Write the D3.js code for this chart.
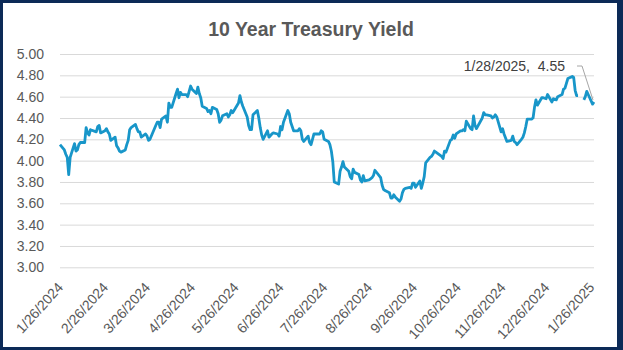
<!DOCTYPE html>
<html>
<head>
<meta charset="utf-8">
<script src="https://cdn.jsdelivr.net/npm/d3@7/dist/d3.min.js"></script>
<style>
  html, body { margin: 0; padding: 0; background: #ffffff; }
  svg { display: block; }
</style>
</head>
<body>
<div id="chart"></div>
<script>
// Daily 10-year Treasury yield (%), one row per trading day; null = no quote
const dates = [
  "2024-01-26","2024-01-29","2024-01-30","2024-01-31","2024-02-01","2024-02-02","2024-02-05","2024-02-06","2024-02-07","2024-02-08",
  "2024-02-09","2024-02-12","2024-02-13","2024-02-14","2024-02-15","2024-02-16","2024-02-20","2024-02-21","2024-02-22","2024-02-23",
  "2024-02-26","2024-02-27","2024-02-28","2024-02-29","2024-03-01","2024-03-04","2024-03-05","2024-03-06","2024-03-07","2024-03-08",
  "2024-03-11","2024-03-12","2024-03-13","2024-03-14","2024-03-15","2024-03-18","2024-03-19","2024-03-20","2024-03-21","2024-03-22",
  "2024-03-25","2024-03-26","2024-03-27","2024-03-28","2024-04-01","2024-04-02","2024-04-03","2024-04-04","2024-04-05","2024-04-08",
  "2024-04-09","2024-04-10","2024-04-11","2024-04-12","2024-04-15","2024-04-16","2024-04-17","2024-04-18","2024-04-19","2024-04-22",
  "2024-04-23","2024-04-24","2024-04-25","2024-04-26","2024-04-29","2024-04-30","2024-05-01","2024-05-02","2024-05-03","2024-05-06",
  "2024-05-07","2024-05-08","2024-05-09","2024-05-10","2024-05-13","2024-05-14","2024-05-15","2024-05-16","2024-05-17","2024-05-20",
  "2024-05-21","2024-05-22","2024-05-23","2024-05-24","2024-05-28","2024-05-29","2024-05-30","2024-05-31","2024-06-03","2024-06-04",
  "2024-06-05","2024-06-06","2024-06-07","2024-06-10","2024-06-11","2024-06-12","2024-06-13","2024-06-14","2024-06-17","2024-06-18",
  "2024-06-20","2024-06-21","2024-06-24","2024-06-25","2024-06-26","2024-06-27","2024-06-28","2024-07-01","2024-07-02","2024-07-03",
  "2024-07-05","2024-07-08","2024-07-09","2024-07-10","2024-07-11","2024-07-12","2024-07-15","2024-07-16","2024-07-17","2024-07-18",
  "2024-07-19","2024-07-22","2024-07-23","2024-07-24","2024-07-25","2024-07-26","2024-07-29","2024-07-30","2024-07-31","2024-08-01",
  "2024-08-02","2024-08-05","2024-08-06","2024-08-07","2024-08-08","2024-08-09","2024-08-12","2024-08-13","2024-08-14","2024-08-15",
  "2024-08-16","2024-08-19","2024-08-20","2024-08-21","2024-08-22","2024-08-23","2024-08-26","2024-08-27","2024-08-28","2024-08-29",
  "2024-08-30","2024-09-03","2024-09-04","2024-09-05","2024-09-06","2024-09-09","2024-09-10","2024-09-11","2024-09-12","2024-09-13",
  "2024-09-16","2024-09-17","2024-09-18","2024-09-19","2024-09-20","2024-09-23","2024-09-24","2024-09-25","2024-09-26","2024-09-27",
  "2024-09-30","2024-10-01","2024-10-02","2024-10-03","2024-10-04","2024-10-07","2024-10-08","2024-10-09","2024-10-10","2024-10-11",
  "2024-10-15","2024-10-16","2024-10-17","2024-10-18","2024-10-21","2024-10-22","2024-10-23","2024-10-24","2024-10-25","2024-10-28",
  "2024-10-29","2024-10-30","2024-10-31","2024-11-01","2024-11-04","2024-11-05","2024-11-06","2024-11-07","2024-11-08","2024-11-12",
  "2024-11-13","2024-11-14","2024-11-15","2024-11-18","2024-11-19","2024-11-20","2024-11-21","2024-11-22","2024-11-25","2024-11-26",
  "2024-11-27","2024-11-29","2024-12-02","2024-12-03","2024-12-04","2024-12-05","2024-12-06","2024-12-09","2024-12-10","2024-12-11",
  "2024-12-12","2024-12-13","2024-12-16","2024-12-17","2024-12-18","2024-12-19","2024-12-20","2024-12-23","2024-12-24","2024-12-26",
  "2024-12-27","2024-12-30","2024-12-31","2025-01-02","2025-01-03","2025-01-06","2025-01-07","2025-01-08","2025-01-10","2025-01-13",
  "2025-01-14","2025-01-15","2025-01-16","2025-01-17","2025-01-20","2025-01-21","2025-01-22","2025-01-23","2025-01-24","2025-01-27",
  "2025-01-28"
];
const yields = [
  4.15,4.10,4.06,4.03,3.87,4.03,4.16,4.09,4.10,4.15,
  4.17,4.17,4.31,4.26,4.24,4.29,4.27,4.32,4.33,4.26,
  4.28,4.30,4.27,4.25,4.19,4.22,4.14,4.12,4.09,4.08,
  4.10,4.15,4.19,4.29,4.31,4.34,4.30,4.27,4.27,4.22,
  4.25,4.23,4.19,4.20,4.33,4.36,4.36,4.31,4.39,4.42,
  4.36,4.54,4.50,4.50,4.63,4.67,4.59,4.64,4.62,4.62,
  4.60,4.65,4.70,4.67,4.63,4.69,4.63,4.59,4.51,4.49,
  4.46,4.47,4.44,4.50,4.48,4.44,4.36,4.38,4.42,4.44,
  4.41,4.43,4.47,4.45,4.54,4.61,4.55,4.51,4.41,4.33,
  4.29,4.29,4.43,4.47,4.40,4.31,4.24,4.20,4.28,4.22,
  4.25,4.26,4.25,4.23,4.32,4.29,4.36,4.47,4.44,4.36,
  4.28,4.28,4.30,4.28,4.20,4.18,4.23,4.17,4.15,4.20,
  4.25,4.25,4.25,4.28,4.27,4.20,4.18,4.15,4.09,3.99,
  3.80,3.78,3.90,3.94,3.99,3.94,3.90,3.85,3.83,3.92,
  3.89,3.87,3.82,3.80,3.86,3.81,3.82,3.83,3.84,3.86,
  3.91,3.84,3.77,3.73,3.72,3.70,3.65,3.65,3.68,3.66,
  3.62,3.64,3.70,3.73,3.74,3.75,3.74,3.79,3.79,3.75,
  3.81,3.74,3.79,3.85,3.98,4.03,4.04,4.06,4.09,4.08,
  4.04,4.02,4.09,4.08,4.19,4.20,4.24,4.21,4.25,4.28,
  4.28,4.29,4.28,4.37,4.30,4.29,4.42,4.33,4.30,4.40,
  4.45,4.43,4.43,4.42,4.40,4.41,4.43,4.41,4.27,4.30,
  4.25,4.18,4.19,4.23,4.18,4.17,4.15,4.20,4.22,4.26,
  4.32,4.39,4.39,4.40,4.50,4.57,4.52,4.59,4.59,4.58,
  4.62,4.55,4.58,4.57,4.60,4.62,4.67,4.68,4.77,4.79,
  4.78,4.66,4.61,4.61,null,4.57,4.60,4.65,4.62,4.53,
  4.55
];
// Axis ticks
const yTicks = [3.00, 3.20, 3.40, 3.60, 3.80, 4.00, 4.20, 4.40, 4.60, 4.80, 5.00];
const xTickDates = [
  "2024-01-26","2024-02-26","2024-03-26","2024-04-26","2024-05-26","2024-06-26","2024-07-26",
  "2024-08-26","2024-09-26","2024-10-26","2024-11-26","2024-12-26","2025-01-26"
];
const chartTitle = "10 Year Treasury Yield";
const calloutDate = "2025-01-28";

const W = 623, H = 350;
const parse = d3.timeParse("%Y-%m-%d");
const fmtDate = d => `${d.getMonth() + 1}/${d.getDate()}/${d.getFullYear()}`;

const series = dates.map((d, i) => ({ date: parse(d), v: yields[i] }));

const svg = d3.select("#chart").append("svg")
  .attr("width", W).attr("height", H);

// chart area background and frame
svg.append("rect").attr("x", 0).attr("y", 0).attr("width", W).attr("height", H)
  .attr("fill", "#0c2a57");
svg.append("rect").attr("x", 3).attr("y", 3).attr("width", W - 9).attr("height", H - 6)
  .attr("fill", "#ffffff");

const x = d3.scaleTime()
  .domain([parse(dates[0]), parse(dates[dates.length - 1])])
  .range([60, 594]);
const y = d3.scaleLinear().domain([3, 5]).range([267.3, 54]);

// title
svg.append("text")
  .attr("x", 311).attr("y", 36)
  .attr("text-anchor", "middle")
  .attr("font-family", "'Liberation Sans', Arial, sans-serif")
  .attr("font-weight", "bold")
  .attr("font-size", 19.5)
  .attr("fill", "#595959")
  .text(chartTitle);

// y axis: gridlines + labels
const yAxis = d3.axisLeft(y)
  .tickValues(yTicks)
  .tickSize(-(594 - 60))
  .tickPadding(16)
  .tickFormat(d3.format(".2f"));
const gy = svg.append("g").attr("transform", "translate(60,0)").call(yAxis);
gy.select(".domain").remove();
gy.selectAll(".tick line").attr("stroke", "#d9d9d9").attr("stroke-width", 1);
gy.selectAll(".tick text")
  .attr("font-family", "'Liberation Sans', Arial, sans-serif")
  .attr("font-size", 14)
  .attr("fill", "#595959");

// x axis: rotated date labels
const gx = svg.append("g");
gx.selectAll("text")
  .data(xTickDates.map(parse))
  .join("text")
  .attr("transform", d => `translate(${x(d) + 4},288) rotate(-48)`)
  .attr("text-anchor", "end")
  .attr("font-family", "'Liberation Sans', Arial, sans-serif")
  .attr("font-size", 14)
  .attr("fill", "#595959")
  .text(fmtDate);

// yield line
const line = d3.line()
  .defined(d => d.v !== null)
  .x(d => x(d.date))
  .y(d => y(d.v));
svg.append("path")
  .datum(series)
  .attr("fill", "none")
  .attr("stroke", "#1896c9")
  .attr("stroke-width", 2.8)
  .attr("stroke-linejoin", "round")
  .attr("d", line);

// callout for the last observation
const last = series.find(d => +d.date === +parse(calloutDate));
const lx = x(last.date), ly = y(last.v);
svg.append("path")
  .attr("fill", "none")
  .attr("stroke", "#a6a6a6")
  .attr("stroke-width", 1)
  .attr("d", `M${lx - 17},66 L${lx - 12},66 L${lx - 1},${ly - 2}`);
svg.append("text")
  .attr("x", lx - 29).attr("y", 70.5)
  .attr("text-anchor", "end")
  .attr("font-family", "'Liberation Sans', Arial, sans-serif")
  .attr("font-size", 14)
  .attr("fill", "#404040")
  .text(`${fmtDate(last.date)},  ${last.v.toFixed(2)}`)
  .attr("xml:space", "preserve")
  .style("white-space", "pre");
</script>
</body>
</html>
